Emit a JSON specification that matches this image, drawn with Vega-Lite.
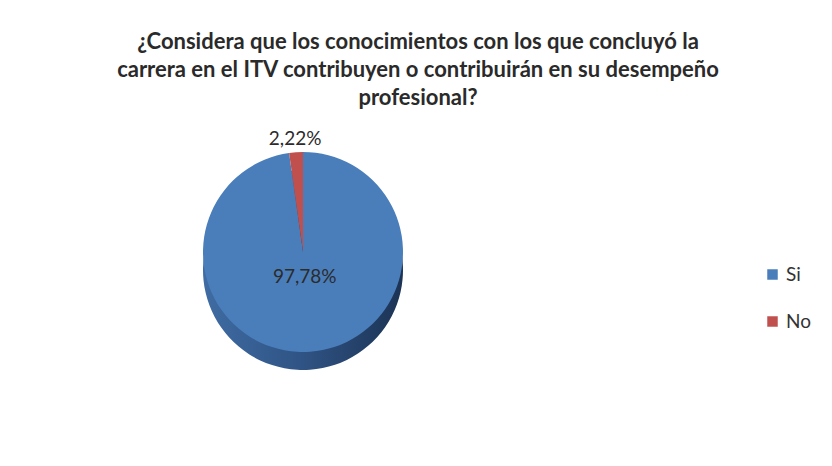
{
  "$schema": "https://vega.github.io/schema/vega-lite/v6.json",
  "autosize": "none",
  "width": 606,
  "height": 264,
  "padding": {"top": 120, "left": 0, "right": 226, "bottom": 82},
  "background": "white",
  "config": {
    "view": {"stroke": null},
    "font": "Lato",
    "locale": {"number": {"decimal": ",", "thousands": ".", "grouping": [3], "currency": ["", " €"]}}
  },
  "title": {
    "text": ["¿Considera que los conocimientos con los que concluyó la", "carrera en el ITV contribuyen o contribuirán en su desempeño", "profesional?"],
    "anchor": "middle",
    "dx": 115,
    "offset": 10,
    "fontSize": 22,
    "fontWeight": "bold",
    "font": "Lato",
    "color": "#2a2a2a",
    "lineHeight": 28
  },
  "data": {"values": [
    {"respuesta": "Si", "valor": 0.9778, "orden": 1},
    {"respuesta": "No", "valor": 0.0222, "orden": 2}
  ]},
  "encoding": {
    "theta": {"field": "valor", "type": "quantitative", "stack": true},
    "order": {"field": "orden", "type": "quantitative"}
  },
  "layer": [
    {
      "mark": {
        "type": "arc",
        "outerRadius": 100,
        "yOffset": 18,
        "color": {"gradient": "linear", "x1": 0, "y1": 0, "x2": 1, "y2": 0,
          "stops": [{"offset": 0, "color": "#3f6ca3"}, {"offset": 0.5, "color": "#2f5384"}, {"offset": 1, "color": "#1c3354"}]}
      }
    },
    {
      "mark": {"type": "arc", "outerRadius": 100},
      "encoding": {
        "color": {
          "field": "respuesta",
          "type": "nominal",
          "scale": {"domain": ["Si", "No"], "range": ["#4A7EBB", "#C0504D"]},
          "legend": {
            "title": null,
            "orient": "none",
            "legendX": 763,
            "legendY": 145,
            "symbolType": "square",
            "symbolSize": 110,
            "symbolStrokeWidth": 0,
            "labelFontSize": 19,
            "labelFont": "Lato",
            "labelColor": "#333333",
            "rowPadding": 27,
            "labelOffset": 4
          }
        }
      }
    },
    {
      "mark": {"type": "text", "radius": 25, "fontSize": 19, "color": "#2b2b2b", "font": "Lato"},
      "encoding": {
        "text": {"condition": {"test": "datum.respuesta == 'Si'", "field": "valor", "type": "quantitative", "format": ".2%"}, "value": ""}
      }
    },
    {
      "mark": {"type": "text", "radius": 113, "fontSize": 19, "color": "#2b2b2b", "font": "Lato"},
      "encoding": {
        "text": {"condition": {"test": "datum.respuesta == 'No'", "field": "valor", "type": "quantitative", "format": ".2%"}, "value": ""}
      }
    }
  ]
}
